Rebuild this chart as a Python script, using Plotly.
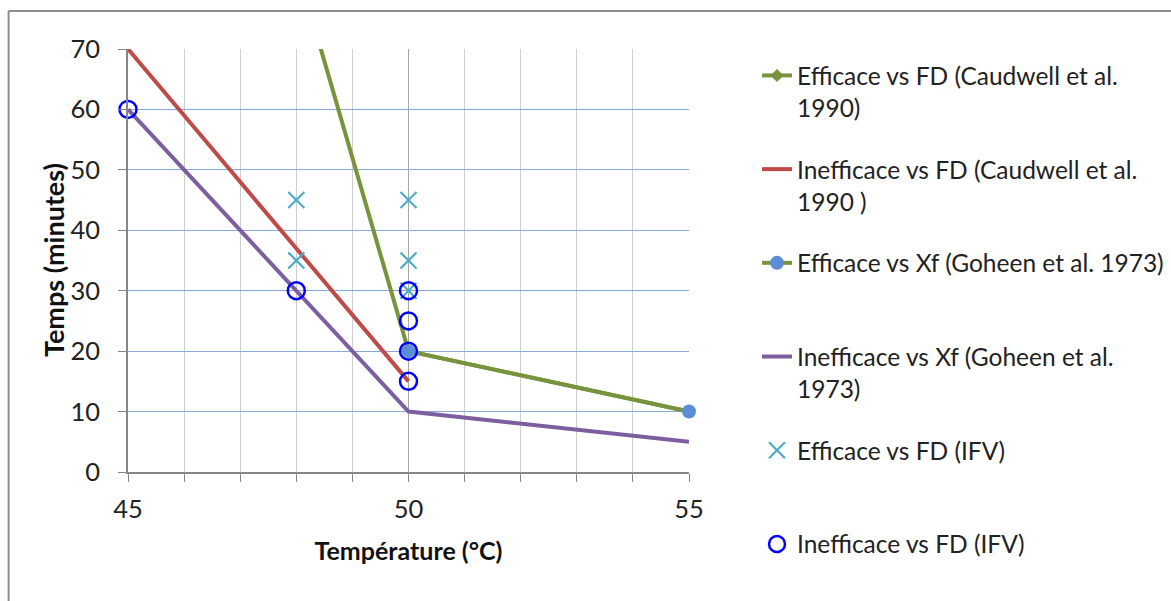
import plotly.graph_objects as go

# Data
caud_eff_x = [45, 50, 55]
caud_eff_y = [180, 20, 10]
caud_ineff_x = [45, 50]
caud_ineff_y = [70, 15]
goh_eff_x = [50, 55]
goh_eff_y = [20, 10]
goh_ineff_x = [45, 50, 55]
goh_ineff_y = [60, 10, 5]
ifv_eff_x = [48, 48, 50, 50, 50]
ifv_eff_y = [45, 35, 45, 35, 30]
ifv_ineff_x = [45, 48, 50, 50, 50, 50]
ifv_ineff_y = [60, 30, 30, 25, 20, 15]

names = [
    "Efficace vs FD (Caudwell et al.<br>1990)",
    "Inefficace vs FD (Caudwell et al.<br>1990 )",
    "Efficace vs Xf (Goheen et al. 1973)<br> ",
    "Inefficace vs Xf (Goheen et al.<br>1973)",
    "Efficace vs FD (IFV)<br> ",
    "Inefficace vs FD (IFV)",
]

GREEN = "#77933C"
RED = "#BE4B48"
PURPLE = "#7D5FA0"
AQUA = "#4BACC6"
BLUE = "#0000FF"
LBLUE = "#5B8ED6"

FONT = "Lato"
TXT = "#222222"

fig = go.Figure()
fig.add_trace(go.Scatter(x=caud_eff_x, y=caud_eff_y, mode="lines+markers", name=names[0],
                         legendgroup="g1",
                         line=dict(color=GREEN, width=4),
                         marker=dict(symbol="diamond", size=10, color=GREEN)))
fig.add_trace(go.Scatter(x=caud_ineff_x, y=caud_ineff_y, mode="lines", name=names[1],
                         legendgroup="g2",
                         line=dict(color=RED, width=4)))
fig.add_trace(go.Scatter(x=goh_eff_x, y=goh_eff_y, mode="lines+markers", name=names[2],
                         legendgroup="g3", cliponaxis=False,
                         line=dict(color=GREEN, width=4),
                         marker=dict(symbol="circle", size=14, color=LBLUE)))
fig.add_trace(go.Scatter(x=goh_ineff_x, y=goh_ineff_y, mode="lines", name=names[3],
                         legendgroup="g4", cliponaxis=False,
                         line=dict(color=PURPLE, width=4)))
fig.add_trace(go.Scatter(x=ifv_eff_x, y=ifv_eff_y, mode="markers", name=names[4],
                         legendgroup="g5", cliponaxis=False,
                         marker=dict(symbol="x-thin-open", size=16, color=AQUA,
                                     line=dict(color=AQUA, width=2.2))))
fig.add_trace(go.Scatter(x=ifv_ineff_x, y=ifv_ineff_y, mode="markers", name=names[5],
                         legendgroup="g6", cliponaxis=False,
                         marker=dict(symbol="circle-open", size=17, color=BLUE,
                                     line=dict(color=BLUE, width=2.5))))

L, R = 127.5, 689
T, B = 49, 472
W, H = 1171, 601

def px_to_paper_x(p):
    return (p - L) / (R - L)

def px_to_paper_y(p):
    return (B - p) / (B - T)

fig.update_layout(
    width=W, height=H,
    margin=dict(l=L, r=W - R, t=T, b=H - B, pad=0),
    paper_bgcolor="white", plot_bgcolor="white",
    font=dict(family=FONT, size=24.5, color=TXT),
    showlegend=True,
    legend=dict(
        xref="container", yref="container",
        x=757 / W, xanchor="left",
        y=1 - 53 / H, yanchor="top",
        valign="top",
        tracegroupgap=27,
        maxheight=590,
        font=dict(family=FONT, size=24.5, color=TXT),
        bgcolor="rgba(0,0,0,0)",
        itemwidth=30,
    ),
    xaxis=dict(
        range=[45, 55], dtick=5, tick0=45,
        showgrid=True, gridcolor="#A6A6A6", gridwidth=1,
        zeroline=False,
        showline=True, linecolor="#868686", linewidth=1.5,
        ticks="outside", ticklen=8, tickcolor="#868686",
        ticklabelstandoff=6,
        minor=dict(dtick=1, showgrid=True, gridcolor="#CFCFCF", gridwidth=1,
                   ticks="outside", ticklen=8, tickcolor="#868686"),
        title=dict(text="<b>Température (°C)</b>", font=dict(family=FONT, size=25, color="#111111"),
                   standoff=20),
        tickfont=dict(family=FONT, size=25.5, color=TXT),
        fixedrange=True,
    ),
    yaxis=dict(
        range=[0, 70], dtick=10, tick0=0,
        showgrid=True, gridcolor="#8AA8D4", gridwidth=1,
        zeroline=False,
        showline=True, linecolor="#868686", linewidth=1.5,
        ticks="outside", ticklen=8, tickcolor="#868686",
        ticklabelstandoff=13,
        tickfont=dict(family=FONT, size=25.5, color=TXT),
        fixedrange=True,
    ),
    annotations=[
        dict(text="<b>Temps (minutes)</b>", xref="paper", yref="paper",
             x=px_to_paper_x(53), y=0.5, xanchor="center", yanchor="middle",
             textangle=-90, showarrow=False,
             font=dict(family=FONT, size=27, color="#111111")),
    ],
    shapes=[
        dict(type="line", xref="paper", yref="paper",
             x0=px_to_paper_x(8), x1=px_to_paper_x(8),
             y0=px_to_paper_y(11), y1=px_to_paper_y(620),
             line=dict(color="#8C8C8C", width=2)),
        dict(type="line", xref="paper", yref="paper",
             x0=px_to_paper_x(8), x1=px_to_paper_x(1200),
             y0=px_to_paper_y(11), y1=px_to_paper_y(11),
             line=dict(color="#8C8C8C", width=2)),
    ],
)

fig.write_html("out.html", config={"displayModeBar": False},
               post_script="document.body.style.margin='0';document.body.style.overflow='hidden';")
